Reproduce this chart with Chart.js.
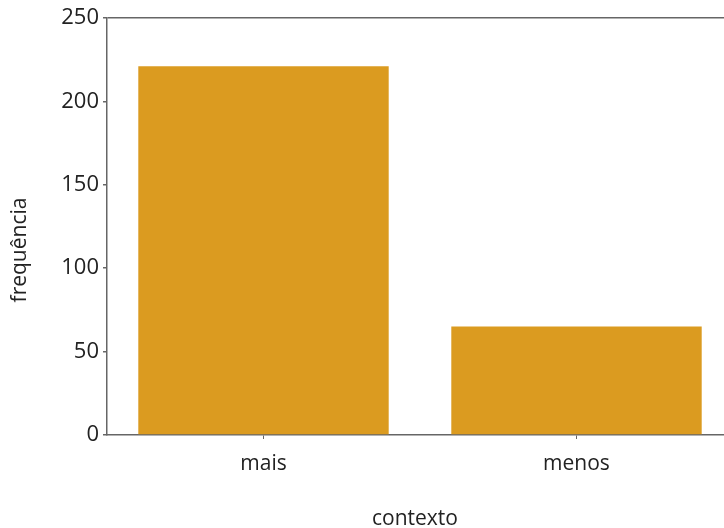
<!DOCTYPE html>
<html>
<head>
    <meta charset="utf-8">
    <title>frequência por contexto</title>
    <style>
        html, body { margin: 0; padding: 0; background: #fff; overflow: hidden; }
        #chart-container { width: 733px; height: 528px; position: relative; }
    </style>
</head>
<body>
    <div id="chart-container">
        <canvas id="myChart"></canvas>
    </div>

    <script src="https://cdn.jsdelivr.net/npm/chart.js"></script>
    <script>
        // данные
        const categories = ['mais', 'menos'];
        const frequencies = [221, 65];
        const yTicks = [0, 50, 100, 150, 200, 250];

        const xTitle = 'contexto';
        const yTitle = 'frequência';
        const fontFamily = '"Open Sans", "Noto Sans", sans-serif';
        const axisColor = '#666';

        // подписи осей рисуем сами, чтобы поставить их как в оригинале
        const axisTitles = {
            id: 'axisTitles',
            afterDraw(chart) {
                const c = chart.ctx;
                c.save();
                c.fillStyle = '#222';
                c.font = '21px ' + fontFamily;
                c.textAlign = 'center';
                c.textBaseline = 'middle';
                c.fillText(xTitle, 415, 519);
                c.translate(20, 250);
                c.rotate(-Math.PI / 2);
                c.fillText(yTitle, 0, 0);
                c.restore();
            }
        };

        const ctx = document.getElementById('myChart').getContext('2d');
        const myChart = new Chart(ctx, {
            type: 'bar',
            data: {
                labels: categories,
                datasets: [{
                    data: frequencies,
                    backgroundColor: '#db9b20',
                    borderWidth: 0,
                    barPercentage: 0.8,
                    categoryPercentage: 1
                }]
            },
            options: {
                responsive: true,
                maintainAspectRatio: false,
                animation: false,
                layout: { padding: { top: 18, right: 0, left: 0, bottom: 0 } },
                plugins: {
                    legend: { display: false },
                    tooltip: { enabled: false }
                },
                scales: {
                    x: {
                        afterFit: s => { s.height = 93; },
                        grid: {
                            offset: false,
                            color: 'transparent',
                            tickColor: axisColor,
                            tickLength: 4,
                            drawOnChartArea: false
                        },
                        border: { color: axisColor, width: 1.5 },
                        ticks: {
                            color: '#222',
                            font: { family: fontFamily, size: 21 },
                            padding: 12
                        }
                    },
                    y: {
                        min: 0,
                        max: 250,
                        afterFit: s => { s.width = 107; },
                        afterBuildTicks: s => { s.ticks = yTicks.map(v => ({ value: v })); },
                        grid: {
                            color: c => (c.tick && c.tick.value === 250) ? axisColor : 'transparent',
                            lineWidth: 1.5,
                            tickColor: axisColor,
                            tickLength: 4
                        },
                        border: { color: axisColor, width: 1.5 },
                        ticks: {
                            color: '#222',
                            font: { family: fontFamily, size: 22 },
                            padding: 4
                        }
                    }
                }
            },
            plugins: [axisTitles]
        });
    </script>
</body>
</html>
